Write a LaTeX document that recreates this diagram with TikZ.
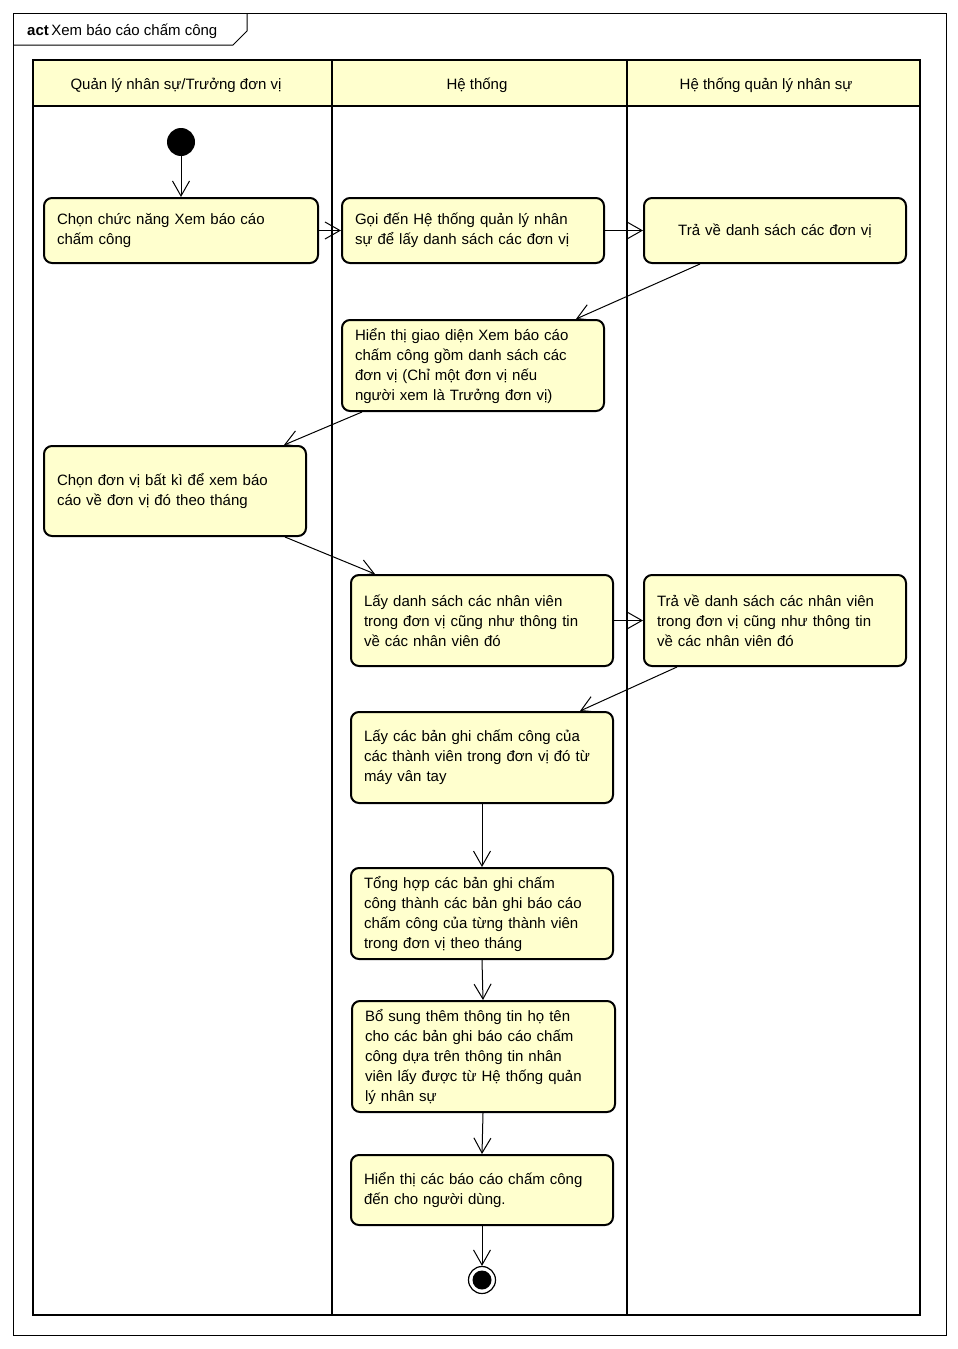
\documentclass[tikz,border=0pt]{standalone}
\usepackage{fontspec}
\setmainfont{Liberation Sans}
\usetikzlibrary{arrows.meta}
\definecolor{actfill}{RGB}{255,255,206}
\begin{document}
\begin{tikzpicture}[x=1pt,y=-1pt,
  font=\fontsize{15}{20}\selectfont,
  act/.style={draw=black, line width=2pt, fill=actfill, rounded corners=8pt,
    inner xsep=13pt, inner ysep=0pt, align=left},
  flow/.style={draw=black, line width=1pt, -{Straight Barb[length=15pt,width=17pt,line width=1pt]}},
  lane/.style={draw=black, line width=2.5pt}]
\useasboundingbox (0,0) rectangle (958,1349);
% diagram frame with its name tab
\draw[line width=1pt] (13,13) rectangle (946,1335);
\draw[line width=1pt] (13,45) -- (233,45) -- (247,31) -- (247,13);
\node[anchor=west, inner sep=0pt] (title) at (27,31) {\textbf{act}\,Xem báo cáo chấm công};
% swimlanes
\fill[actfill] (33,60) rectangle (920,106);
\draw[lane] (33,60) rectangle (920,1315);
\draw[lane] (33,106) -- (920,106);
\draw[lane] (332,60) -- (332,1315);
\draw[lane] (627,60) -- (627,1315);
\node (laneA) at (176,85) {Quản lý nhân sự/Trưởng đơn vị};
\node (laneB) at (477,85) {Hệ thống};
\node (laneC) at (766,85) {Hệ thống quản lý nhân sự};
% initial and final nodes
\node[circle, fill=black, minimum size=28pt, inner sep=0pt] (start) at (181,142) {};
\node[circle, draw=black, line width=1.2pt, minimum size=27pt, inner sep=0pt] (stop) at (482,1280) {};
\fill[black] (stop.center) circle (9.5pt);
% actions
\node[act, minimum width=274pt, minimum height=65pt, text width=248pt] (a1) at (181,230.5)
  {Chọn chức năng Xem báo cáo\\chấm công};
\node[act, minimum width=262pt, minimum height=65pt, text width=236pt] (b1) at (473,230.5)
  {Gọi đến Hệ thống quản lý nhân\\sự để lấy danh sách các đơn vị};
\node[act, minimum width=262pt, minimum height=65pt, text width=236pt, align=center] (c1) at (775,230.5)
  {Trả về danh sách các đơn vị};
\node[act, minimum width=262pt, minimum height=91pt, text width=236pt] (b2) at (473,365.5)
  {Hiển thị giao diện Xem báo cáo\\chấm công gồm danh sách các\\đơn vị (Chỉ một đơn vị nếu\\người xem là Trưởng đơn vị)};
\node[act, minimum width=262pt, minimum height=90pt, text width=236pt] (a2) at (175,491)
  {Chọn đơn vị bất kì để xem báo\\cáo về đơn vị đó theo tháng};
\node[act, minimum width=262pt, minimum height=91pt, text width=236pt] (b3) at (482,620.5)
  {Lấy danh sách các nhân viên\\trong đơn vị cũng như thông tin\\về các nhân viên đó};
\node[act, minimum width=262pt, minimum height=91pt, text width=236pt] (c2) at (775,620.5)
  {Trả về danh sách các nhân viên\\trong đơn vị cũng như thông tin\\về các nhân viên đó};
\node[act, minimum width=262pt, minimum height=91pt, text width=236pt] (b4) at (482,757.5)
  {Lấy các bản ghi chấm công của\\các thành viên trong đơn vị đó từ\\máy vân tay};
\node[act, minimum width=262pt, minimum height=91pt, text width=236pt] (b5) at (482,913.5)
  {Tổng hợp các bản ghi chấm\\công thành các bản ghi báo cáo\\chấm công của từng thành viên\\trong đơn vị theo tháng};
\node[act, minimum width=263pt, minimum height=111pt, text width=237pt] (b6) at (483.5,1056.5)
  {Bổ sung thêm thông tin họ tên\\cho các bản ghi báo cáo chấm\\công dựa trên thông tin nhân\\viên lấy được từ Hệ thống quản\\lý nhân sự};
\node[act, minimum width=262pt, minimum height=70pt, text width=236pt] (b7) at (482,1190)
  {Hiển thị các báo cáo chấm công\\đến cho người dùng.};
% control flows
\draw[flow] (start) -- (a1);
\draw[flow] (a1) -- (b1);
\draw[flow] (b1) -- (c1);
\draw[flow] ([xshift=-75pt]c1.south) -- ([xshift=103pt]b2.north);
\draw[flow] ([xshift=-111pt]b2.south) -- ([xshift=109pt]a2.north);
\draw[flow] ([xshift=110pt]a2.south) -- ([xshift=-107pt]b3.north);
\draw[flow] (b3) -- (c2);
\draw[flow] ([xshift=-98pt]c2.south) -- ([xshift=98pt]b4.north);
\draw[flow] (b4) -- (b5);
\draw[flow] (b5.south) -- ([xshift=-0.5pt]b6.north);
\draw[flow] ([xshift=-0.5pt]b6.south) -- (b7.north);
\draw[flow] (b7) -- (stop);
\end{tikzpicture}
\end{document}
